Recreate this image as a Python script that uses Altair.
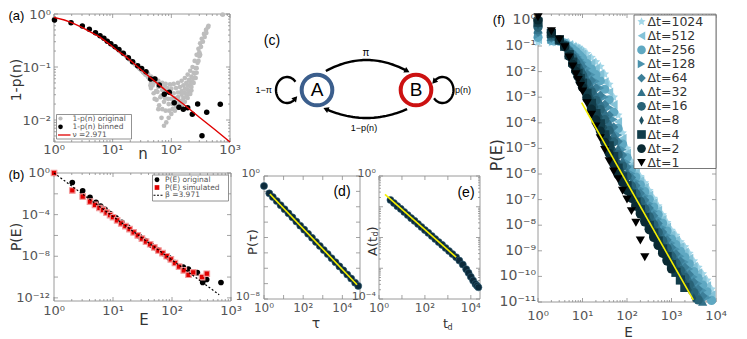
import altair as alt
import numpy as np
import pandas as pd

W, H, M = 731, 331, 8
FONT = "DejaVu Sans"
LAB = "#555555"
TTL = "#333333"

# ---------------- panel (a) ----------------
A_LINE_N = [1, 2, 3, 4, 5, 6, 7, 8, 9, 10, 11, 12, 13, 14, 15, 16, 17, 18, 19, 20, 21, 22, 23, 24, 25, 26, 27, 28, 29, 30, 31, 32, 33, 34, 35, 36, 38]
A_LINE_V = [0.80, 0.69, 0.59, 0.51, 0.45, 0.39, 0.35, 0.31, 0.28, 0.255, 0.24, 0.22, 0.2, 0.19, 0.18, 0.17, 0.16, 0.15, 0.14, 0.135, 0.128, 0.122, 0.118, 0.112, 0.108, 0.104, 0.1, 0.096, 0.092, 0.09, 0.088, 0.084, 0.08, 0.078, 0.076, 0.072, 0.07]
A_ARC1_N = [40, 50, 60, 70, 80, 95, 110, 130, 150, 170, 190, 210, 230, 250, 270, 290, 310, 330, 360, 390, 420]
A_ARC1_V = [0.075, 0.062, 0.055, 0.05, 0.048, 0.047, 0.048, 0.05, 0.055, 0.062, 0.072, 0.085, 0.1, 0.13, 0.17, 0.22, 0.28, 0.34, 0.42, 0.5, 0.56]
A_ARC2_N = [45, 55, 65, 75, 85, 100, 120, 140, 160, 180, 200, 220, 240, 260, 280, 300]
A_ARC2_V = [0.066, 0.054, 0.047, 0.043, 0.04, 0.039, 0.04, 0.042, 0.045, 0.05, 0.057, 0.066, 0.078, 0.095, 0.12, 0.16]
A_ARC3_N = [40, 50, 60, 70, 80, 95, 110, 130, 150, 170, 190, 210, 230, 250, 270, 290, 310]
A_ARC3_V = [0.065, 0.05, 0.042, 0.037, 0.034, 0.032, 0.032, 0.033, 0.035, 0.039, 0.045, 0.052, 0.062, 0.075, 0.095, 0.13, 0.17]
A_ARC4_N = [42, 48, 58, 68, 78, 88, 100, 115, 130, 150, 170, 190, 210, 230, 250, 270]
A_ARC4_V = [0.06, 0.045, 0.034, 0.029, 0.026, 0.025, 0.025, 0.026, 0.027, 0.03, 0.033, 0.038, 0.044, 0.052, 0.062, 0.078]
A_ARC5_N = [45, 55, 65, 75, 90, 105, 120, 140, 160, 180, 200, 220, 240, 260]
A_ARC5_V = [0.05, 0.035, 0.027, 0.022, 0.02, 0.02, 0.021, 0.023, 0.026, 0.03, 0.035, 0.042, 0.05, 0.062]
A_ARC6_N = [44, 50, 56, 62, 70, 80, 92, 105, 120, 140, 160, 180, 200, 220]
A_ARC6_V = [0.045, 0.032, 0.024, 0.019, 0.016, 0.015, 0.015, 0.016, 0.018, 0.02, 0.023, 0.027, 0.031, 0.036]
A_ARC7_N = [45, 52, 60, 68, 75, 82, 90, 100, 115, 130, 150, 170, 190, 210]
A_ARC7_V = [0.04, 0.025, 0.016, 0.011, 0.0078, 0.009, 0.011, 0.013, 0.015, 0.017, 0.019, 0.022, 0.026, 0.031]
A_TOP_N = [300, 320, 345, 370, 395, 430, 750]
A_TOP_V = [0.19, 0.24, 0.3, 0.37, 0.44, 0.6, 0.97]
A_BIN_N = [1.02, 1.95, 3.04, 4.0, 5.1, 6.1, 7.1, 8.1, 9.3, 11, 12.8, 15.2, 18.5, 21.9, 26.7, 31.2, 37, 44.5, 52.6, 62.4,
           75.9, 92.3, 112, 135, 160, 190, 228, 281, 401, 333, 683]
A_BIN_V = [0.77, 0.686, 0.594, 0.514, 0.445, 0.39, 0.347, 0.305, 0.275, 0.242, 0.215, 0.181, 0.15, 0.126, 0.106, 0.094, 0.0815, 0.0594, 0.0594, 0.0457,
           0.0305, 0.0333, 0.0212, 0.0174, 0.0159, 0.0171, 0.0128, 0.02, 0.014, 0.00506, 0.0198]
A_FIT_N = [1, 1.5, 2, 3, 4, 6, 9, 12, 17, 22, 35, 65, 100, 160, 300, 550, 1000]
A_FIT_V = [0.865, 0.77, 0.69, 0.56, 0.47, 0.37, 0.265, 0.205, 0.155, 0.122, 0.078, 0.044, 0.0295, 0.02, 0.0113, 0.0066, 0.00385]

# ---------------- panel (b) (log10 values) ----------------
B_ORIG_LOGE = [0.31, 0.486, 0.61, 0.712, 0.79, 0.864, 0.95, 1.05, 1.15, 1.25, 1.35, 1.45, 1.55, 1.65, 1.75, 1.85, 1.95, 2.05, 2.19, 2.277, 2.43, 2.52, 2.588, 2.83]
B_ORIG_LOGP = [-0.91, -1.71, -2.33, -2.81, -3.17, -3.49, -3.9, -4.3, -4.75, -5.2, -5.65, -6.1, -6.5, -6.95, -7.35, -7.75, -8.15, -8.6, -9.04, -9.23, -9.58, -10.52, -10.23, -10.52]
B_SIM_LOGE = [0, 0.31, 0.486, 0.61, 0.695, 0.77, 0.83, 0.89, 0.95, 1.0, 1.07, 1.14, 1.21, 1.28, 1.35, 1.42, 1.49, 1.56, 1.63, 1.7,
              1.77, 1.84, 1.91, 1.98, 2.05, 2.12, 2.2, 2.28, 2.36, 2.51, 2.59]
B_SIM_LOGP = [0, -1.68, -2.26, -2.75, -3.07, -3.36, -3.55, -3.8, -4.05, -4.25, -4.55, -4.85, -5.1, -5.4, -5.7, -6.0, -6.3, -6.6, -6.85, -7.15,
              -7.45, -7.7, -8.0, -8.3, -8.65, -9.0, -9.36, -9.78, -9.55, -10.0, -9.68]
B_FIT_LOGE = [0, 2.8]
B_FIT_LOGP = [0, -11.7]

# ---------------- panels (d), (e) (log10 values) ----------------
D_LOGT = [0.0, 0.27, 0.45, 0.65, 0.85, 1.05, 1.25, 1.45, 1.65, 1.85, 2.05, 2.25, 2.45, 2.65, 2.85, 3.05, 3.25, 3.45, 3.65, 3.85, 4.05, 4.25, 4.45, 4.65, 4.81]
D_LOGP = [-0.65, -1.13, -1.37, -1.63, -1.90, -2.16, -2.43, -2.69, -2.96, -3.23, -3.49, -3.76, -4.02, -4.29, -4.55, -4.82, -5.08, -5.35, -5.61, -5.88, -6.14, -6.41, -6.67, -6.94, -7.15]
D_FIT_LOGT = [0.3, 4.75]
D_FIT_LOGP = [-1.17, -7.07]
E_LOGT = [0.5, 0.65, 0.8, 0.95, 1.1, 1.25, 1.4, 1.55, 1.7, 1.85, 2.0, 2.15, 2.3, 2.45, 2.6, 2.75, 2.9, 3.05, 3.2, 3.36, 3.5, 3.65, 3.8, 3.9, 4.0, 4.1, 4.2, 4.27, 4.33]
E_LOGA = [-0.78, -0.88, -0.98, -1.07, -1.17, -1.27, -1.37, -1.46, -1.56, -1.66, -1.76, -1.85, -1.95, -2.05, -2.15, -2.24, -2.34, -2.44, -2.54, -2.64, -2.75, -2.88, -3.03, -3.15, -3.28, -3.40, -3.51, -3.57, -3.62]
E_FIT_LOGT = [0.26, 3.36]
E_FIT_LOGA = [-0.6, -2.64]

# ---------------- panel (f) (log10 values) ----------------
F_LOGE = [0, 0.3, 0.48, 0.6, 0.7, 0.78, 0.85, 0.9, 0.95, 1.0, 1.1, 1.2, 1.3, 1.4, 1.5, 1.6, 1.7, 1.8, 1.9, 2.0,
          2.1, 2.2, 2.3, 2.4, 2.5, 2.6, 2.7, 2.8, 2.9, 3.0, 3.1, 3.2, 3.3, 3.4, 3.5, 3.6, 3.7, 3.8, 3.9]
N_ = None
F_SERIES = ["Δt=1024", "Δt=512", "Δt=256", "Δt=128", "Δt=64", "Δt=32", "Δt=16", "Δt=8", "Δt=4", "Δt=2", "Δt=1"]
F_LOGP = {
    "Δt=1024": [-0.85, -0.87, -0.82, -0.85, -0.9, -0.95, -1.0, -1.05, -1.1, -1.15, -1.3, -1.45, -1.62, -1.8, -2.1, -2.5, -3.0, -3.7, -4.4, -5.0,
                -5.5, -5.8, -6.1, -6.35, -6.65, -6.95, -7.25, -7.6, -7.9, -8.2, -8.4, -8.65, -8.85, -9.1, -9.4, -9.65, -9.9, -10.15, -10.5],
    "Δt=512": [-0.75, -0.83, -0.81, -0.87, -0.96, -1.04, -1.11, -1.18, -1.25, -1.31, -1.49, -1.67, -1.87, -2.08, -2.4, -2.8, -3.29, -3.96, -4.61, -5.18,
               -5.66, -5.96, -6.26, -6.52, -6.82, -7.12, -7.42, -7.77, -8.07, -8.37, -8.58, -8.84, -9.05, -9.3, -9.61, -9.86, -10.12, -10.37, -10.72],
    "Δt=256": [-0.66, -0.78, -0.81, -0.89, -1.01, -1.12, -1.22, -1.31, -1.39, -1.48, -1.69, -1.9, -2.12, -2.36, -2.69, -3.1, -3.58, -4.22, -4.83, -5.36,
               -5.82, -6.12, -6.42, -6.69, -6.99, -7.29, -7.59, -7.93, -8.23, -8.54, -8.76, -9.02, -9.25, -9.51, -9.81, -10.07, -10.34, -10.6, -10.94],
    "Δt=128": [-0.56, -0.74, -0.8, -0.91, -1.07, -1.21, -1.33, -1.43, -1.54, -1.64, -1.88, -2.12, -2.38, -2.64, -2.99, -3.4, -3.87, -4.48, -5.04, -5.55,
               -5.98, -6.29, -6.59, -6.86, -7.16, -7.46, -7.76, -8.1, -8.4, -8.7, -8.94, -9.21, -9.44, -9.71, -10.02, -10.28, -10.55, -10.82, N_],
    "Δt=64": [-0.46, -0.69, -0.79, -0.93, -1.12, -1.29, -1.44, -1.56, -1.68, -1.8, -2.08, -2.35, -2.63, -2.92, -3.28, -3.7, -4.16, -4.73, -5.26, -5.73,
              -6.14, -6.45, -6.75, -7.02, -7.33, -7.63, -7.93, -8.27, -8.57, -8.87, -9.12, -9.4, -9.64, -9.92, -10.22, -10.49, -10.77, N_, N_],
    "Δt=32": [-0.37, -0.65, -0.79, -0.95, -1.18, -1.38, -1.55, -1.69, -1.83, -1.97, -2.27, -2.57, -2.88, -3.2, -3.58, -4.0, -4.45, -4.99, -5.47, -5.91,
              -6.31, -6.61, -6.91, -7.19, -7.5, -7.8, -8.11, -8.43, -8.73, -9.04, -9.3, -9.58, -9.84, -10.12, -10.43, -10.71, -10.99, N_, N_],
    "Δt=16": [-0.27, -0.6, -0.78, -0.97, -1.23, -1.46, -1.66, -1.82, -1.98, -2.13, -2.46, -2.79, -3.13, -3.48, -3.88, -4.3, -4.74, -5.25, -5.69, -6.09,
              -6.47, -6.77, -7.07, -7.36, -7.67, -7.97, -8.28, -8.6, -8.9, -9.21, -9.48, -9.77, -10.04, -10.33, -10.63, -10.92, N_, N_, N_],
    "Δt=8": [-0.17, -0.56, -0.77, -0.99, -1.29, -1.55, -1.77, -1.95, -2.12, -2.29, -2.66, -3.02, -3.38, -3.76, -4.17, -4.6, -5.03, -5.51, -5.9, -6.28,
             -6.63, -6.94, -7.24, -7.53, -7.84, -8.14, -8.45, -8.77, -9.07, -9.37, -9.66, -9.96, -10.23, -10.53, -10.84, N_, N_, N_, N_],
    "Δt=4": [-0.07, -0.51, -0.76, -1.01, -1.34, -1.63, -1.88, -2.07, -2.27, -2.45, -2.85, -3.24, -3.64, -4.04, -4.47, -4.9, -5.32, -5.77, -6.12, -6.46,
             -6.79, -7.1, -7.4, -7.7, -8.01, -8.31, -8.62, -8.93, -9.23, -9.54, -9.84, -10.14, -10.43, N_, N_, N_, N_, N_, N_],
    "Δt=2": [0.02, -0.47, -0.76, -1.03, -1.4, -1.72, -1.99, -2.2, -2.41, -2.62, -3.05, -3.47, -3.89, -4.32, -4.76, -5.2, -5.61, -6.03, -6.33, -6.64,
             -6.95, -7.26, -7.56, -7.87, -8.18, -8.48, -8.79, -9.1, -9.4, -9.71, N_, N_, N_, N_, N_, N_, N_, N_, N_],
    "Δt=1": [0.12, -0.42, -0.75, -1.05, -1.45, -1.8, -2.1, -2.33, -2.56, -2.78, -3.24, -3.69, -4.14, -4.6, -5.06, -5.5, -5.9, -6.2, -6.65, -7.0,
             -7.45, -7.9, -8.6, -9.25, N_, N_, N_, N_, N_, N_, N_, N_, N_, N_, N_, N_, N_, N_, N_],
}
F_COLORS = ["#a3d7e8", "#84c2d7", "#5fa8c2", "#4a92ad", "#3c7f99", "#327189", "#286276", "#1d5061", "#123d4a", "#0a2a33", "#000000"]
STAR = "M0,-1L0.29,-0.4L0.95,-0.31L0.47,0.15L0.59,0.81L0,0.5L-0.59,0.81L-0.47,0.15L-0.95,-0.31L-0.29,-0.4Z"
THIN_DIAMOND = "M0,-1L0.55,0L0,1L-0.55,0Z"
F_SHAPES = [STAR, "triangle-left", "circle", "triangle-right", "diamond", "triangle-up", "circle", THIN_DIAMOND, "square", "circle", "triangle-down"]
F_FIT_LOGE = [0.98, 3.49]
F_FIT_LOGP = [-3.21, -10.92]

# ---------------- panel (c) diagram ----------------
C_NODES = ["A", "B"]
C_NODE_X = [55, 154]
C_NODE_Y = [45, 45]
C_COLORS = ["#3b5e8c", "#cc1111"]

# ======================================================================
SUP = str.maketrans("0123456789-", "⁰¹²³⁴⁵⁶⁷⁸⁹⁻")


def PX(f):
    return alt.X(f + ":Q", scale=None, axis=None)


def PY(f):
    return alt.Y(f + ":Q", scale=None, axis=None)


def minor_vals(dom):
    lo, hi = dom
    out = []
    for k in range(int(np.floor(np.log10(lo))) - 1, int(np.ceil(np.log10(hi))) + 1):
        for m in range(2, 10):
            v = m * 10.0 ** k
            if lo < v < hi:
                out.append(v)
    return out


def panel(box, xdom, ydom, xlab, ylab, xt, yt, xminor, yminor, build, ydy=0):
    """xlab/ylab = (label exponents, font size, padding)"""
    x0, y0, x1, y1 = box
    sx = alt.Scale(type="log", domain=xdom, range=[x0 - M, x1 - M], nice=False)
    sy = alt.Scale(type="log", domain=ydom, range=[y1 - M, y0 - M], nice=False)

    def X(f):
        return alt.X(f + ":Q", scale=sx, axis=None)

    def Y(f):
        return alt.Y(f + ":Q", scale=sy, axis=None)

    fr = pd.DataFrame({"xa": [xdom[0]], "xb": [xdom[1]], "ya": [ydom[0]], "yb": [ydom[1]]})
    frame = alt.Chart(fr).mark_rect(fill="white", fillOpacity=0, stroke="#9a9a9a", strokeWidth=1).encode(
        x=X("xa"), x2="xb", y=Y("ya"), y2="yb")

    def xticks(vals, L):
        n = len(vals)
        df = pd.DataFrame({"v": vals * 2, "a": [y1 - M] * n + [y0 - M] * n, "b": [y1 - M - L] * n + [y0 - M + L] * n})
        return alt.Chart(df).mark_rule(color="#8c8c8c", strokeWidth=0.8).encode(x=X("v"), y=PY("a"), y2=alt.Y2("b"))

    def yticks(vals, L):
        n = len(vals)
        df = pd.DataFrame({"v": vals * 2, "a": [x0 - M] * n + [x1 - M] * n, "b": [x0 - M + L] * n + [x1 - M - L] * n})
        return alt.Chart(df).mark_rule(color="#8c8c8c", strokeWidth=0.8).encode(y=Y("v"), x=PX("a"), x2=alt.X2("b"))

    tick_layers = [xticks([float(f"1e{k}") for k in xt], 4), yticks([float(f"1e{k}") for k in yt], 4)]
    if xminor:
        tick_layers.append(xticks(minor_vals(xdom), 2))
    if yminor:
        tick_layers.append(yticks(minor_vals(ydom), 2))

    xl = pd.DataFrame({"v": [float(f"1e{k}") for k in xlab[0]], "t": ["10" + str(k).translate(SUP) for k in xlab[0]]})
    xl["py"] = y1 + xlab[2] - M
    yl = pd.DataFrame({"v": [float(f"1e{k}") for k in ylab[0]], "t": ["10" + str(k).translate(SUP) for k in ylab[0]]})
    yl["px"] = x0 - ylab[2] - M
    ykw = dict(baseline="middle", align="right", fontSize=ylab[1], font=FONT, color=LAB)
    if ydy:
        ykw["dy"] = ydy
    labels = [
        alt.Chart(xl).mark_text(baseline="top", align="center", fontSize=xlab[1], font=FONT, color=LAB).encode(
            x=X("v"), y=PY("py"), text="t:N"),
        alt.Chart(yl).mark_text(**ykw).encode(y=Y("v"), x=PX("px"), text="t:N"),
    ]
    return alt.layer(frame, *tick_layers, *build(X, Y), *labels)


def logdf(xs, ys, xn, yn):
    return pd.DataFrame({xn: [10.0 ** v for v in xs], yn: [10.0 ** v for v in ys]})


def px_df(**cols):
    return pd.DataFrame({k: [c - M for c in v] if k in ("x", "y", "x2", "y2") else v for k, v in cols.items()})


def txt(x, y, s, size=14, angle=0, align="center", baseline="middle", color="black", font=FONT):
    df = px_df(x=[x], y=[y], t=[s])
    kw = dict(align=align, baseline=baseline, fontSize=size, color=color, font=font)
    if angle:
        kw["angle"] = angle
    return alt.Chart(df).mark_text(**kw).encode(x=PX("x"), y=PY("y"), text="t:N")


def box(x0, y0, x1, y1, stroke="#777777"):
    df = px_df(x=[x0], y=[y0], x2=[x1], y2=[y1])
    return alt.Chart(df).mark_rect(fill="white", stroke=stroke, strokeWidth=0.8).encode(
        x=PX("x"), x2="x2", y=PY("y"), y2="y2")


# ---------------- (a) ----------------
df_a_orig = pd.DataFrame({
    "n": A_LINE_N + A_ARC1_N + A_ARC2_N + A_ARC3_N + A_ARC4_N + A_ARC5_N + A_ARC6_N + A_ARC7_N + A_TOP_N,
    "v": A_LINE_V + A_ARC1_V + A_ARC2_V + A_ARC3_V + A_ARC4_V + A_ARC5_V + A_ARC6_V + A_ARC7_V + A_TOP_V})
df_a_bin = pd.DataFrame({"n": A_BIN_N, "v": A_BIN_V})
df_a_fit = pd.DataFrame({"n": A_FIT_N, "v": A_FIT_V})


def build_a(X, Y):
    return [
        alt.Chart(df_a_orig).mark_circle(size=22, color="#bdbdbd", opacity=1).encode(x=X("n"), y=Y("v")),
        alt.Chart(df_a_bin).mark_circle(size=30, color="black", opacity=1).encode(x=X("n"), y=Y("v")),
        alt.Chart(df_a_fit).mark_line(color="#e00000", strokeWidth=1.4).encode(x=X("n"), y=Y("v")),
    ]


pA = panel((54, 14, 230, 142), [1, 1000], [10 ** -2.415, 1], ([0, 1, 2, 3], 13, 2), ([0, -1, -2], 13, 3),
           [0, 1, 2, 3], [0, -1, -2], True, True, build_a, ydy=1)

# ---------------- (b) ----------------
df_b_orig = logdf(B_ORIG_LOGE, B_ORIG_LOGP, "E", "P")
df_b_sim = logdf(B_SIM_LOGE, B_SIM_LOGP, "E", "P")
df_b_fit = logdf(B_FIT_LOGE, B_FIT_LOGP, "E", "P")


def build_b(X, Y):
    return [
        alt.Chart(df_b_orig).mark_circle(size=32, color="black", opacity=1).encode(x=X("E"), y=Y("P")),
        alt.Chart(df_b_sim).mark_square(size=30, color="#e00000", opacity=1, stroke="#f29a9a", strokeWidth=1.2).encode(x=X("E"), y=Y("P")),
        alt.Chart(df_b_fit).mark_line(color="black", strokeWidth=1.2, strokeDash=[2, 2]).encode(x=X("E"), y=Y("P")),
    ]


pB = panel((54, 173, 231, 301), [1, 1000], [10 ** -12.3, 1], ([0, 1, 2, 3], 13, 4), ([0, -4, -8, -12], 13, 4),
           [0, 1, 2, 3], list(range(0, -13, -2)), True, False, build_b)

# ---------------- (d) ----------------
df_d = logdf(D_LOGT, D_LOGP, "t", "p")
df_d_fit = logdf(D_FIT_LOGT, D_FIT_LOGP, "t", "p")


def build_d(X, Y):
    return [
        alt.Chart(df_d).mark_circle(size=50, color="#0c2a3b", opacity=1, stroke="#2e5d73", strokeWidth=0.6).encode(x=X("t"), y=Y("p")),
        alt.Chart(df_d_fit).mark_line(color="#f5ef00", strokeWidth=1.6).encode(x=X("t"), y=Y("p")),
    ]


pD = panel((264, 176, 360, 299), [1, 10 ** 4.9], [1e-8, 1], ([0, 2, 4], 12, 4), ([0, -8], 11, 4),
           [0, 1, 2, 3, 4], list(range(0, -9, -1)), False, False, build_d, ydy=-2)

# ---------------- (e) ----------------
df_e = logdf(E_LOGT, E_LOGA, "t", "a")
df_e_fit = logdf(E_FIT_LOGT, E_FIT_LOGA, "t", "a")


def build_e(X, Y):
    return [
        alt.Chart(df_e).mark_circle(size=50, color="#0c2a3b", opacity=1, stroke="#2e5d73", strokeWidth=0.6).encode(x=X("t"), y=Y("a")),
        alt.Chart(df_e_fit).mark_line(color="#f5ef00", strokeWidth=1.6).encode(x=X("t"), y=Y("a")),
    ]


pE = panel((379, 176, 480, 299), [1, 10 ** 4.4], [1e-4, 1], ([0, 2, 4], 12, 4), ([0, -4], 11, 3),
           [0, 1, 2, 3, 4], [0, -1, -2, -3, -4], False, True, build_e, ydy=-2)

# ---------------- (f) ----------------
rows = []
for s in F_SERIES:
    for le, lp in zip(F_LOGE, F_LOGP[s]):
        if lp is None:
            continue
        rows.append({"series": s, "E": 10.0 ** le, "P": 10.0 ** lp})
df_f = pd.DataFrame(rows)
df_f_fit = logdf(F_FIT_LOGE, F_FIT_LOGP, "E", "P")
f_color = alt.Scale(domain=F_SERIES, range=F_COLORS)
f_shape = alt.Scale(domain=F_SERIES, range=F_SHAPES)


def build_f(X, Y):
    return [
        alt.Chart(df_f).mark_point(filled=True, size=85, opacity=1, strokeWidth=0).encode(
            x=X("E"), y=Y("P"),
            color=alt.Color("series:N", scale=f_color, legend=None),
            shape=alt.Shape("series:N", scale=f_shape, legend=None)),
        alt.Chart(df_f_fit).mark_line(color="#f5ef00", strokeWidth=1.6).encode(x=X("E"), y=Y("P")),
    ]


pF = panel((538, 14, 716, 302), [1, 1e4], [1e-11, 10 ** 0.25], ([0, 1, 2, 3, 4], 13, 8),
           (list(range(0, -12, -1)), 14, 2), [0, 1, 2, 3, 4], list(range(0, -12, -1)), True, False, build_f)

# ---------------- (c) diagram ----------------
cx = alt.Scale(domain=[0, 210], range=[262 - M, 472 - M])
cy = alt.Scale(domain=[0, 105], range=[135 - M, 30 - M])
ax_, ay_ = C_NODE_X[0], C_NODE_Y[0]
bx_, by_ = C_NODE_X[1], C_NODE_Y[1]


def on_node(x, y, ang, r=21):
    return (x + r * np.cos(np.radians(ang)), y + r * np.sin(np.radians(ang)))


def bezier(p0, p2, peak_y, n=40):
    c = ((p0[0] + p2[0]) / 2, (4 * peak_y - p0[1] - p2[1]) / 2)
    t = np.linspace(0, 1, n)
    xs = (1 - t) ** 2 * p0[0] + 2 * (1 - t) * t * c[0] + t ** 2 * p2[0]
    ys = (1 - t) ** 2 * p0[1] + 2 * (1 - t) * t * c[1] + t ** 2 * p2[1]
    return xs, ys


def loop(cxp, cyp, t0, t1, n=50, rx=11, ry=13):
    t = np.radians(np.linspace(t0, t1, n))
    return cxp + rx * np.cos(t), cyp + ry * np.sin(t)


curves = [
    bezier(on_node(ax_, ay_, 65), on_node(bx_, by_, 115), 75),
    bezier(on_node(bx_, by_, 245), on_node(ax_, ay_, 295), 17),
    loop(ax_ - 30, ay_, 40, 320),
    loop(bx_ + 26.5, by_, 220, 500),
]
crow, arow = [], []
for ci, (xs, ys) in enumerate(curves):
    for i, (xv, yv) in enumerate(zip(xs, ys)):
        crow.append({"c": ci, "i": i, "x": xv, "y": yv})
    dx, dy = xs[-1] - xs[-3], ys[-1] - ys[-3]
    arow.append({"x": xs[-1], "y": ys[-1], "ang": float(np.degrees(np.arctan2(dx, dy)) % 360)})
df_c_lines = pd.DataFrame(crow)
df_c_arrows = pd.DataFrame(arow)
df_c_nodes = pd.DataFrame({"node": C_NODES, "x": C_NODE_X, "y": C_NODE_Y})
CX = alt.X("x:Q", scale=cx, axis=None)
CY = alt.Y("y:Q", scale=cy, axis=None)
pC = alt.layer(
    alt.Chart(df_c_lines).mark_line(color="black", strokeWidth=2.4).encode(x=CX, y=CY, detail="c:N", order="i:Q"),
    alt.Chart(df_c_arrows).mark_point(shape="triangle-up", filled=True, size=38, color="black", opacity=1).encode(
        x=CX, y=CY, angle=alt.Angle("ang:Q", scale=None)),
    alt.Chart(df_c_nodes).mark_point(shape="circle", filled=True, size=940, strokeWidth=4, opacity=1, fill="white").encode(
        x=CX, y=CY, stroke=alt.Stroke("node:N", scale=alt.Scale(domain=C_NODES, range=C_COLORS), legend=None)),
    alt.Chart(df_c_nodes).mark_text(fontSize=19, font="Liberation Sans", color="black").encode(x=CX, y=CY, text="node:N"),
)

# ---------------- annotations & legends ----------------
ann = [
    txt(8.5, 16, "(a)", 13, align="left", font="Liberation Sans"),
    txt(8.5, 175, "(b)", 13, align="left", font="Liberation Sans"),
    txt(272, 41, "(c)", 14, font="Liberation Sans"),
    txt(342, 192, "(d)", 14, font="Liberation Sans"),
    txt(466, 193, "(e)", 14, font="Liberation Sans"),
    txt(499, 20, "(f)", 13, font="Liberation Sans"),
    # axis titles
    txt(17, 80, "1-p(n)", 14, angle=270, color=TTL),
    txt(143, 159, "n", 15, baseline="alphabetic", color=TTL),
    txt(17, 237, "P(E)", 14, angle=270, color=TTL),
    txt(144, 325, "E", 15, baseline="alphabetic", color=TTL),
    txt(252.5, 242, "P(τ)", 13, angle=270, color=TTL),
    txt(316, 328, "τ", 14, baseline="alphabetic", color=TTL),
    txt(372.5, 256, "A(t", 13, angle=270, align="left", color=TTL),
    txt(375.5, 236.5, "d", 8, angle=270, align="left", color=TTL),
    txt(372.5, 231.5, ")", 13, angle=270, align="left", color=TTL),
    txt(443, 328, "t", 13, align="left", baseline="alphabetic", color=TTL),
    txt(447.5, 330, "d", 8, align="left", baseline="alphabetic", color=TTL),
    txt(497, 155, "P(E)", 16, angle=270, color=TTL),
    txt(628.5, 336.5, "E", 13.5, baseline="alphabetic", color=TTL),
    # diagram labels
    txt(366, 53, "π", 10, font="Liberation Sans"),
    txt(364, 128, "1−p(n)", 9, font="Liberation Sans"),
    txt(272, 90, "1−π", 9, align="right", font="Liberation Sans"),
    txt(455, 90, "p(n)", 9, align="left", font="Liberation Sans"),
]

# legend (a)
A_LEG = ["1-p(n) original", "1-p(n) binned", "ν =2.971"]
A_LEG_Y = [118.5, 126.8, 135]
leg_a = [
    box(56.5, 114.5, 131.5, 139),
    alt.Chart(px_df(x=[60.5], y=[A_LEG_Y[0]])).mark_circle(size=18, color="#bdbdbd", opacity=1).encode(x=PX("x"), y=PY("y")),
    alt.Chart(px_df(x=[60.5], y=[A_LEG_Y[1]])).mark_circle(size=22, color="black", opacity=1).encode(x=PX("x"), y=PY("y")),
    alt.Chart(px_df(x=[58], x2=[70.5], y=[A_LEG_Y[2]])).mark_rule(color="#e00000", strokeWidth=1.3).encode(x=PX("x"), x2="x2", y=PY("y")),
] + [txt(72.5, yy, s, 7.5, align="left", color=LAB) for yy, s in zip(A_LEG_Y, A_LEG)]

# legend (b)
B_LEG = ["P(E) original", "P(E) simulated", "β =3.971"]
B_LEG_Y = [179.8, 187.5, 195.2]
leg_b = [
    box(152.5, 175, 228.5, 201),
    alt.Chart(px_df(x=[157], y=[B_LEG_Y[0]])).mark_circle(size=24, color="black", opacity=1).encode(x=PX("x"), y=PY("y")),
    alt.Chart(px_df(x=[157], y=[B_LEG_Y[1]])).mark_square(size=22, color="#e00000", opacity=1).encode(x=PX("x"), y=PY("y")),
    alt.Chart(px_df(x=[153.5], x2=[162.5], y=[B_LEG_Y[2]])).mark_rule(color="black", strokeWidth=1.1, strokeDash=[2, 1.5]).encode(x=PX("x"), x2="x2", y=PY("y")),
] + [txt(165, yy, s, 7.5, align="left", color=LAB) for yy, s in zip(B_LEG_Y, B_LEG)]

# legend (f)
f_leg_y = [21.7 + 14.1 * i for i in range(len(F_SERIES))]
df_fleg = px_df(x=[641.5] * len(F_SERIES), y=f_leg_y, series=F_SERIES)
leg_f = [
    box(634, 15, 716, 168.5, stroke="#555555"),
    alt.Chart(df_fleg).mark_point(filled=True, size=75, opacity=1, strokeWidth=0).encode(
        x=PX("x"), y=PY("y"),
        color=alt.Color("series:N", scale=f_color, legend=None),
        shape=alt.Shape("series:N", scale=f_shape, legend=None)),
    alt.Chart(df_fleg.assign(x=df_fleg["x"] + 6)).mark_text(align="left", baseline="middle", fontSize=12.5, font=FONT, color="#333333").encode(
        x=PX("x"), y=PY("y"), text="series:N"),
]

chart = alt.layer(pA, pB, pC, pD, pE, pF, *ann, *leg_a, *leg_b, *leg_f).resolve_scale(
    x="independent", y="independent", color="independent", shape="independent", stroke="independent"
).properties(width=W, height=H, padding=0, autosize=alt.AutoSizeParams(type="none")).configure_view(strokeWidth=0)

chart.save("out.html", embed_options={"renderer": "svg", "actions": False})
